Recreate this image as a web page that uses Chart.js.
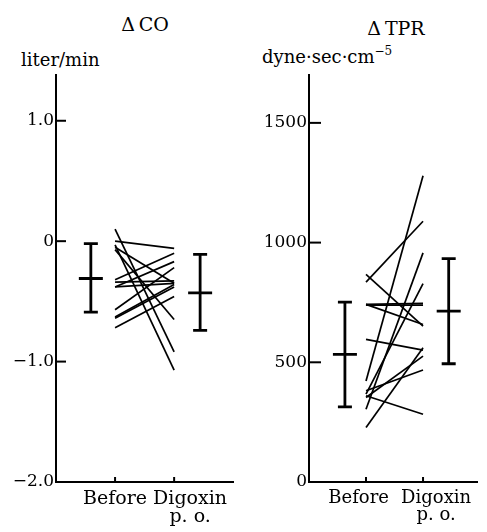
<!DOCTYPE html>
<html>
<head>
<meta charset="utf-8">
<script src="https://cdn.jsdelivr.net/npm/chart.js@4/dist/chart.umd.min.js"></script>
<style>
  body { margin: 0; background: #fff; width: 487px; height: 532px; overflow: hidden; position: relative; font-family: "DejaVu Serif", serif; color: #000; }
  .panel { position: absolute; top: 0; height: 532px; }
  #co-wrap { left: 0; width: 243px; }
  #tpr-wrap { left: 243px; width: 244px; }
  .txt { position: absolute; white-space: nowrap; line-height: 1; }
  .sup { position: relative; top: -8px; font-size: 12px; }
</style>
</head>
<body>
<div class="txt" style="left:95px;width:100px;text-align:center;top:15px;font-size:19px">&Delta;&#8201;CO</div>
<div class="txt" style="left:21px;top:51px;font-size:18px">liter/min</div>
<div class="txt" style="left:346px;width:100px;text-align:center;top:19px;font-size:19px">&Delta;&#8201;TPR</div>
<div class="txt" style="left:262px;top:48px;font-size:18px">dyne&middot;sec&middot;cm<span class="sup">&minus;5</span></div>

<div class="panel" id="co-wrap"><canvas id="co-chart"></canvas></div>
<div class="panel" id="tpr-wrap"><canvas id="tpr-chart"></canvas></div>

<script>
// 환자별 값 (Before -> Digoxin p.o.)
const STAGES = ["Before", ["Digoxin", "p. o."]];
const STAGE_X = [1, 2];

const CO_BEFORE = [0.10, -0.03, 0.00, -0.07, -0.05, -0.32, -0.38, -0.38, -0.57, -0.63, -0.64, -0.72, -0.34];
const CO_AFTER  = [-0.92, -1.07, -0.06, -0.65, -0.35, -0.10, -0.17, -0.35, -0.22, -0.36, -0.38, -0.46, -0.33];
const CO_MEAN = [-0.31, -0.43];
const CO_HIGH = [-0.02, -0.11];
const CO_LOW  = [-0.59, -0.74];
const CO_TICKS = [-2, -1, 0, 1];

const TPR_BEFORE = [228, 304, 353, 367, 381, 422, 596, 739, 742, 835, 867, 742, 360];
const TPR_AFTER  = [561, 957, 526, 829, 468, 1279, 551, 739, 746, 1089, 651, 658, 283];
const TPR_MEAN = [533, 714];
const TPR_HIGH = [751, 933];
const TPR_LOW  = [314, 494];
const TPR_TICKS = [0, 500, 1000, 1500];

const INK = "#000";

const innerTicks = {
  id: "innerTicks",
  afterDraw(chart, args, opts) {
    const { ctx, chartArea, scales } = chart;
    ctx.save();
    ctx.strokeStyle = INK;
    ctx.lineWidth = 2;
    scales.y.ticks.forEach((t) => {
      const y = scales.y.getPixelForValue(t.value);
      if (y >= chartArea.bottom - 2) return;
      ctx.beginPath();
      ctx.moveTo(chartArea.left, y);
      ctx.lineTo(chartArea.left + opts.yLen, y);
      ctx.stroke();
    });
    STAGE_X.forEach((v) => {
      const x = scales.x.getPixelForValue(v);
      ctx.beginPath();
      ctx.moveTo(x, chartArea.bottom);
      ctx.lineTo(x, chartArea.bottom - 5);
      ctx.stroke();
    });
    ctx.restore();
  },
};

function pairLines(before, after) {
  return before.map((b, i) => ({
    data: [{ x: STAGE_X[0], y: b }, { x: STAGE_X[1], y: after[i] }],
    showLine: true,
    borderColor: INK,
    borderWidth: 1.7,
    pointRadius: 0,
  }));
}

function errorBars(xs, high, mean, low) {
  return xs.map((x, i) => ({
    data: [{ x, y: high[i] }, { x, y: mean[i] }, { x, y: low[i] }],
    showLine: true,
    borderColor: INK,
    borderWidth: 2.8,
    pointStyle: "line",
    pointRadius: [7, 12, 7],
    pointBorderWidth: 2.8,
    pointBorderColor: INK,
  }));
}

function fmtCO(v) {
  if (v === 0) return "0";
  return (v < 0 ? "\u2212" : "") + Math.abs(v).toFixed(1);
}

function makePanel(canvas, cfg) {
  return new Chart(canvas, {
    type: "scatter",
    data: {
      datasets: [
        ...pairLines(cfg.before, cfg.after),
        ...errorBars(cfg.barX, cfg.high, cfg.mean, cfg.low),
      ],
    },
    options: {
      responsive: true,
      maintainAspectRatio: false,
      animation: false,
      events: [],
      layout: { padding: { top: 75, right: cfg.padRight, bottom: 0, left: 0 } },
      plugins: {
        legend: { display: false },
        tooltip: { enabled: false },
        innerTicks: { yLen: cfg.yTickLen },
      },
      scales: {
        x: {
          type: "linear",
          min: 0,
          max: cfg.xMax,
          grid: { display: false, drawTicks: false },
          border: { display: true, color: INK, width: 2 },
          afterFit: (s) => { s.height = 50; },
          afterBuildTicks: (s) => { s.ticks = cfg.labelAt.map((v) => ({ value: v })); },
          ticks: {
            autoSkip: false,
            maxRotation: 0,
            padding: 8,
            color: INK,
            font: { family: "DejaVu Serif", size: cfg.xFont, lineHeight: 0.95 },
            callback: (v, i) => STAGES[i],
          },
        },
        y: {
          min: cfg.yMin,
          max: cfg.yMax,
          grid: { display: false, drawTicks: false },
          border: { display: true, color: INK, width: 2 },
          afterFit: (s) => { s.width = cfg.axisLeft; },
          afterBuildTicks: (s) => { s.ticks = cfg.ticks.map((v) => ({ value: v })); },
          ticks: {
            padding: 2,
            color: INK,
            font: { family: "DejaVu Serif", size: 17 },
            callback: cfg.fmt,
          },
        },
      },
    },
    plugins: [innerTicks],
  });
}

makePanel(document.getElementById("co-chart"), {
  before: CO_BEFORE, after: CO_AFTER,
  mean: CO_MEAN, high: CO_HIGH, low: CO_LOW,
  barX: [0.59, 2.44],
  labelAt: [1.0, 2.27],
  ticks: CO_TICKS, fmt: fmtCO,
  yMin: -2, yMax: 1.38, xMax: 3,
  axisLeft: 56, padRight: 5, yTickLen: 10, xFont: 19,
});

makePanel(document.getElementById("tpr-chart"), {
  before: TPR_BEFORE, after: TPR_AFTER,
  mean: TPR_MEAN, high: TPR_HIGH, low: TPR_LOW,
  barX: [0.63, 2.45],
  labelAt: [0.87, 2.23],
  ticks: TPR_TICKS, fmt: (v) => String(v),
  yMin: 0, yMax: 1700, xMax: 2.95,
  axisLeft: 66, padRight: 0, yTickLen: 12, xFont: 18,
});
</script>
</body>
</html>
